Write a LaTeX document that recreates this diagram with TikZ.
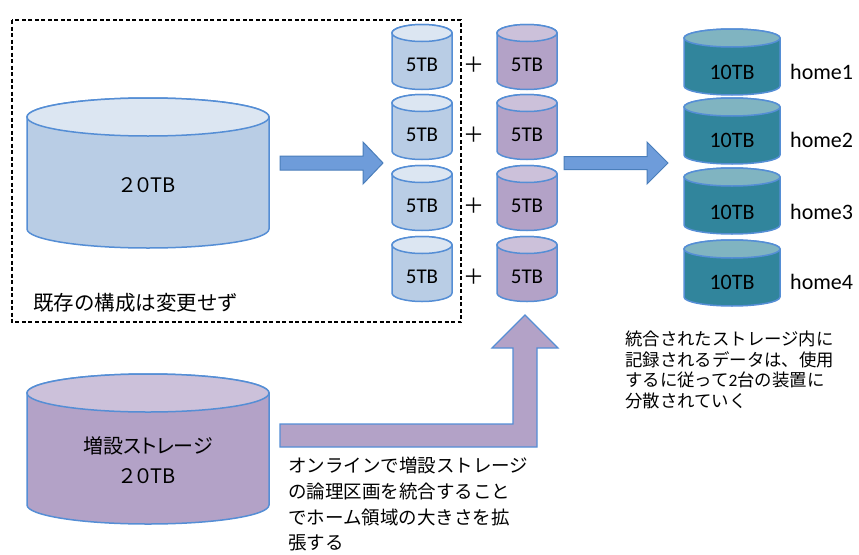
\documentclass[tikz,border=0pt]{standalone}
\usepackage{fontspec}
\setmainfont{Carlito}
\newfontfamily\jpfont{Noto Sans CJK JP}
\newfontfamily\jpprop[RawFeature=+palt]{Noto Sans CJK JP}
\usetikzlibrary{calc}

\definecolor{drumline}{RGB}{85,142,213}
\definecolor{bluebody}{RGB}{185,205,229}
\definecolor{bluelid}{RGB}{220,230,242}
\definecolor{purplebody}{RGB}{179,162,199}
\definecolor{purplelid}{RGB}{204,193,218}
\definecolor{tealbody}{RGB}{49,133,156}
\definecolor{teallid}{RGB}{128,180,193}
\definecolor{arrowfill}{RGB}{110,156,218}
\definecolor{arrowline}{RGB}{74,126,187}

% drum: centre x, top y, bottom y, x radius, y radius, body colour, lid colour
\newcommand{\drum}[7]{%
  \path[fill=#6,draw=drumline,line width=1.5pt] (#1-#4,#2) -- (#1-#4,#3)
    arc[start angle=180,end angle=360,x radius=#4pt,y radius=#5pt]
    -- (#1+#4,#2)
    arc[start angle=0,end angle=180,x radius=#4pt,y radius=#5pt] -- cycle;
  \path[fill=#7,draw=drumline,line width=1.5pt] (#1,#2) ellipse[x radius=#4pt,y radius=#5pt];}

\tikzset{
  tbtext/.style={inner sep=0pt,font=\fontsize{21}{21}\selectfont},
  bigtext/.style={inner sep=0pt,align=center,font=\jpprop\fontsize{20}{30}\selectfont},
  plustext/.style={inner sep=0pt,font=\jpfont\fontsize{21}{21}\selectfont},
  hometext/.style={inner sep=0pt,anchor=west,font=\fontsize{22}{22}\selectfont},
  notetext/.style={inner sep=0pt,anchor=north west,align=left},
  blockarrow/.style={fill=arrowfill,draw=arrowline,line width=1pt,line join=miter}
}

\begin{document}
\begin{tikzpicture}[x=1pt,y=-1pt]
    \useasboundingbox (0,0) rectangle (859,554);

    % existing storage
    \draw[dash pattern=on 4pt off 2.5pt,line width=1.3pt] (12,20) rectangle (461,322);
    \drum{148}{117}{229}{121}{19}{bluebody}{bluelid}
    \node[bigtext] (old) at (148,185) {２０TB};
    \node[notetext,anchor=west,font=\jpfont\fontsize{20.5}{20.5}\selectfont] (keep) at (33,303) {既存の構成は変更せず};

    % added storage
    \drum{148}{393}{505}{121}{19}{purplebody}{purplelid}
    \node[bigtext] (new) at (148,460) {増設ストレージ\\２０TB};

    % logical volumes
    \drum{422}{33}{81}{30}{8.5}{bluebody}{bluelid}
    \drum{422}{103}{151}{30}{8.5}{bluebody}{bluelid}
    \drum{422}{174}{222}{30}{8.5}{bluebody}{bluelid}
    \drum{422}{245}{293}{30}{8.5}{bluebody}{bluelid}
    \drum{527}{33}{81}{30}{8.5}{purplebody}{purplelid}
    \drum{527}{103}{151}{30}{8.5}{purplebody}{purplelid}
    \drum{527}{174}{222}{30}{8.5}{purplebody}{purplelid}
    \drum{527}{245}{293}{30}{8.5}{purplebody}{purplelid}

    \node[tbtext] (b1) at (422,65)  {5TB};
    \node[tbtext] (b2) at (422,135) {5TB};
    \node[tbtext] (b3) at (422,206) {5TB};
    \node[tbtext] (b4) at (422,277) {5TB};
    \node[plustext] (p1) at (474,65)  {＋};
    \node[plustext] (p2) at (474,135) {＋};
    \node[plustext] (p3) at (474,206) {＋};
    \node[plustext] (p4) at (474,277) {＋};
    \node[tbtext] (v1) at (527,65)  {5TB};
    \node[tbtext] (v2) at (527,135) {5TB};
    \node[tbtext] (v3) at (527,206) {5TB};
    \node[tbtext] (v4) at (527,277) {5TB};

    % home areas
    \drum{732}{38}{86}{48}{9}{tealbody}{teallid}
    \drum{732}{107}{155}{48}{9}{tealbody}{teallid}
    \drum{732}{177}{225}{48}{9}{tealbody}{teallid}
    \drum{732}{249}{297}{48}{9}{tealbody}{teallid}

    \node[tbtext,font=\fontsize{22}{22}\selectfont] (h1) at (732,72)  {10TB};
    \node[tbtext,font=\fontsize{22}{22}\selectfont] (h2) at (732,140) {10TB};
    \node[tbtext,font=\fontsize{22}{22}\selectfont] (h3) at (732,212) {10TB};
    \node[tbtext,font=\fontsize{22}{22}\selectfont] (h4) at (732,282) {10TB};
    \node[hometext] (n1) at (790,72)  {home1};
    \node[hometext] (n2) at (790,140) {home2};
    \node[hometext] (n3) at (790,212) {home3};
    \node[hometext] (n4) at (790,282) {home4};

    % block arrows
    \coordinate (a1s) at (280,163);
    \coordinate (a1e) at (383,163);
    \coordinate (a2s) at (564,163);
    \coordinate (a2e) at (668,163);
    \coordinate (a3s) at (280,435.5);
    \coordinate (a3e) at (525,315);
    \draw[blockarrow] (a1s) ++(0,-7) -- ++(83,0) -- ++(0,-14) -- (a1e)
        -- ++(-20,21) -- ++(0,-14) -- ++(-83,0) -- cycle;
    \draw[blockarrow] (a2s) ++(0,-6.5) -- ++(83,0) -- ++(0,-14.5) -- (a2e)
        -- ++(-21,21) -- ++(0,-14.5) -- ++(-83,0) -- cycle;
    \draw[fill=purplebody,draw=drumline,line width=1.2pt,line join=miter]
        (a3s) ++(0,-11.5) -- ++(233,0) -- ++(0,-76) -- ++(-21,0) -- (a3e)
        -- ++(33,33) -- ++(-21,0) -- ++(0,99) -- ++(-257,0) -- cycle;

    % notes
    \node[notetext,font=\jpfont\fontsize{18.5}{25.7}\selectfont] (howto) at (288,457)
        {オンラインで増設ストレージ\\の論理区画を統合すること\\でホーム領域の大きさを拡\\張する};
    \node[notetext,font=\jpfont\fontsize{17.4}{20.5}\selectfont] (spread) at (625,331)
        {統合されたストレージ内に\\記録されるデータは、使用\\するに従って{\normalfont 2}台の装置に\\分散されていく};
\end{tikzpicture}
\end{document}
